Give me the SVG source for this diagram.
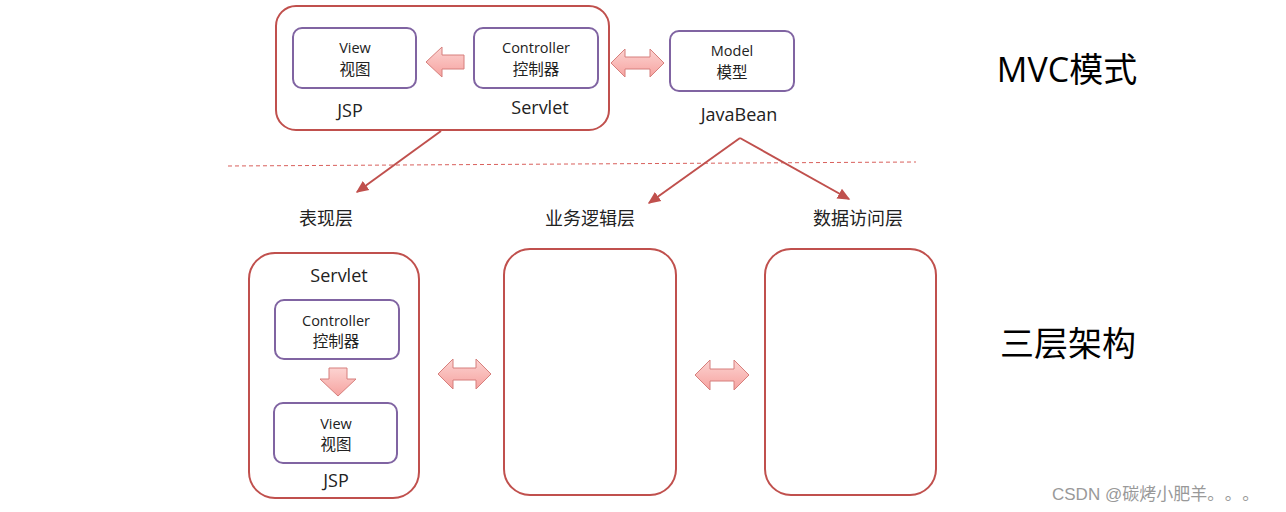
<svg xmlns="http://www.w3.org/2000/svg" width="1286" height="512" viewBox="0 0 1286 512">
<defs>
<linearGradient id="g" x1="0" y1="0" x2="0" y2="1">
<stop offset="0" stop-color="#fcd3d1"/>
<stop offset="1" stop-color="#f6a3a0"/>
</linearGradient>
<marker id="ah" viewBox="0 0 10 10" refX="8" refY="5" markerWidth="7" markerHeight="7" orient="auto">
<path d="M0,1 L9,5 L0,9 Z" fill="#c0504d"/>
</marker>
<style>
.red{fill:#fff;stroke:#c0504d;stroke-width:2}
.pur{fill:#fff;stroke:#8064a2;stroke-width:2}
.blk{fill:url(#g);stroke:#d67f7c;stroke-width:1}
.t{font-family:"Open Sans","Noto Sans CJK SC",sans-serif;fill:#222;text-anchor:middle}
.s{font-size:14.5px}
.c{font-size:15.5px}
.m{font-size:18px}
.l{font-size:18px}
.big{font-size:34px;fill:#000}
.ln{stroke:#c0504d;stroke-width:2;fill:none}
</style>
</defs>
<rect width="1286" height="512" fill="#fff"/>

<g id="mvc-container"><rect class="red" x="276" y="6" width="333" height="124" rx="20"/>
<text class="t m" x="350" y="117">JSP</text>
<text class="t m" x="540" y="114">Servlet</text></g>
<g id="mvc-view"><rect class="pur" x="293" y="28" width="123" height="60" rx="9"/>
<text class="t s" x="355" y="53">View</text><text class="t c" x="355" y="75">视图</text></g>
<g id="mvc-controller"><rect class="pur" x="474" y="28" width="124" height="60" rx="9"/>
<text class="t s" x="536" y="53">Controller</text><text class="t c" x="536" y="75">控制器</text></g>
<g id="mvc-model"><rect class="pur" x="670" y="31" width="124" height="60" rx="9"/>
<text class="t s" x="732" y="56">Model</text><text class="t c" x="732" y="78">模型</text>
<text class="t m" x="739" y="121">JavaBean</text></g>

<g id="title-mvc"><text class="t big" x="1067" y="82">MVC模式</text></g>
<g id="title-3"><text class="t big" x="1068" y="356">三层架构</text></g>

<g id="label-pres"><text class="t l" x="326" y="225">表现层</text></g>
<g id="label-biz"><text class="t l" x="590" y="225">业务逻辑层</text></g>
<g id="label-data"><text class="t l" x="858" y="225">数据访问层</text></g>

<g id="tier-pres"><rect class="red" x="249" y="253" width="170" height="245" rx="26"/>
<text class="t m" x="339" y="282">Servlet</text>
<text class="t m" x="336" y="487">JSP</text></g>
<g id="tier-controller"><rect class="pur" x="275" y="300" width="124" height="59" rx="9"/>
<text class="t s" x="336" y="326">Controller</text><text class="t c" x="336" y="347">控制器</text></g>
<g id="tier-view"><rect class="pur" x="274" y="403" width="123" height="60" rx="9"/>
<text class="t s" x="336" y="429">View</text><text class="t c" x="336" y="450">视图</text></g>
<g id="tier-biz"><rect class="red" x="504" y="249" width="172" height="246" rx="26"/></g>
<g id="tier-data"><rect class="red" x="765" y="249" width="171" height="246" rx="26"/></g>

<g id="connectors">
<line x1="228" y1="166" x2="916" y2="162" stroke="#d9605c" stroke-width="1" stroke-dasharray="4,3"/>
<line class="ln" x1="441" y1="131" x2="357" y2="192" marker-end="url(#ah)"/>
<line class="ln" x1="740" y1="138" x2="649" y2="203" marker-end="url(#ah)"/>
<line class="ln" x1="740" y1="138" x2="849" y2="199" marker-end="url(#ah)"/>
<path class="blk" d="M426,62 L442,47 L442,55 L464,55 L464,69 L442,69 L442,77 Z"/>
<path class="blk" d="M611,63 L625,49 L625,57 L650,57 L650,49 L664,63 L650,77 L650,69 L625,69 L625,77 Z"/>
<path class="blk" d="M338,396 L320,379 L329,379 L329,368 L347,368 L347,379 L356,379 Z"/>
<path class="blk" d="M438,374 L453,359 L453,368 L476,368 L476,359 L491,374 L476,389 L476,380 L453,380 L453,389 Z"/>
<path class="blk" d="M695,375 L710,360 L710,369 L734,369 L734,360 L749,375 L734,390 L734,381 L710,381 L710,390 Z"/>
</g>

<g id="watermark"><text x="1052" y="500" font-family="'Liberation Sans','Noto Sans CJK SC',sans-serif" font-size="17" fill="#999">CSDN @碳烤小肥羊<tspan font-family="'Noto Sans CJK SC',sans-serif" letter-spacing="9">。。。</tspan></text></g>
</svg>
